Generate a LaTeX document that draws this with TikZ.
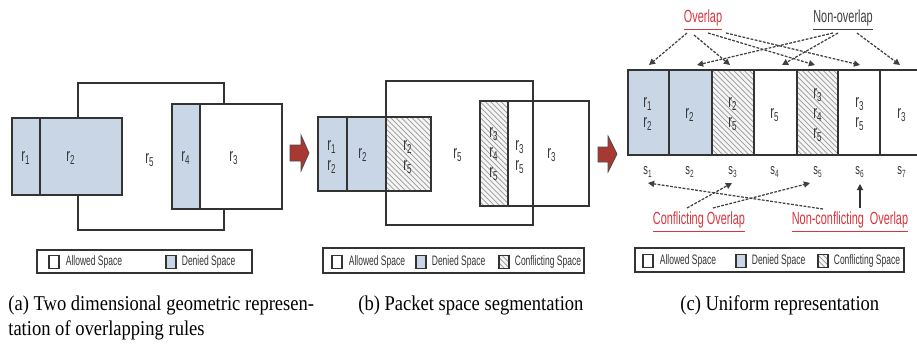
\documentclass[tikz,border=0pt]{standalone}
\usepackage{fontspec}
\usepackage{xcolor}
\usepackage{tikz}
\usetikzlibrary{positioning,calc,arrows.meta,patterns}

\newfontfamily\narrowsf[FakeStretch=0.62]{Liberation Sans}
\newfontfamily\capserif[FakeStretch=0.88]{Liberation Serif}
\definecolor{denyblue}{RGB}{200,214,230}
\definecolor{tagred}{RGB}{214,52,62}
\definecolor{arrowred}{RGB}{168,56,50}
\newcommand{\rlab}[1]{r\textsubscript{#1}}
\newcommand{\slab}[1]{s\textsubscript{#1}}

\begin{document}
\begin{tikzpicture}[x=0.02cm, y=-0.02cm,
  box/.style={draw=black!80, line width=0.8pt},
  deny/.style={box, fill=denyblue},
  allow/.style={box, fill=white},
  confl/.style={box, preaction={fill=black!4}, pattern=north west lines, pattern color=black!40},
  lbl/.style={font=\narrowsf\fontsize{10.5}{11.5}\selectfont, text=black!80, align=center, inner sep=0pt},
  seg/.style={font=\narrowsf\fontsize{8.5}{10}\selectfont, text=black!80, inner sep=0pt},
  legtxt/.style={font=\narrowsf\fontsize{7.8}{9}\selectfont, text=black!80, inner sep=0pt},
  swatch/.style={draw=black!80, line width=0.6pt, minimum width=0.2cm, minimum height=0.27cm, inner sep=0pt},
  legbox/.style={draw=black!80, line width=0.8pt},
  tag/.style={font=\narrowsf\fontsize{10}{11}\selectfont, inner sep=0pt},
  captxt/.style={font=\capserif\fontsize{12}{14}\selectfont, anchor=base west, inner sep=0pt},
  dots/.style={draw=black!75, line width=0.7pt, dash pattern=on 1.6pt off 0.8pt, -{Triangle[width=3.5pt,length=3.5pt]}},
  solidarr/.style={draw=black!80, line width=0.7pt, -{Triangle[width=3.5pt,length=3.5pt]}},
  bigarrow/.style={fill=arrowred, draw=black!70, line width=0.4pt}]
  \useasboundingbox (0,0) rectangle (917,349);

  % (a) Two dimensional view
  \draw[box] (78,83) rectangle (224,230); % r5
  \draw[deny] (12,118) rectangle (40,195); % r1
  \draw[deny] (40,118) rectangle (122,195); % r2
  \draw[deny] (172,104) rectangle (200,209); % r4
  \draw[allow] (200,104) rectangle (282,209); % r3
  \node[lbl] (a1) at (26,158) {\rlab{1}};
  \node[lbl] (a2) at (71,158) {\rlab{2}};
  \node[lbl] (a5) at (150,160) {\rlab{5}};
  \node[lbl] (a4) at (186,158) {\rlab{4}};
  \node[lbl] (a3) at (234,158) {\rlab{3}};

  % Legend (a)
  \draw[legbox] (37,250) rectangle (252,273);
  \node[swatch, fill=white] (la1) at (54,262) {};
  \node[legtxt, right=0.12cm of la1] (lt1) {Allowed Space};
  \node[swatch, fill=denyblue] (la2) at (171,262) {};
  \node[legtxt, right=0.1cm of la2] (lt2) {Denied Space};

  % Arrow a -> b
  \draw[bigarrow] (290,145) -- (301,145) -- (301,135) -- (309,153) -- (301,171) -- (301,161) -- (290,161) -- cycle;

  % (b) Segmented space
  \draw[deny] (318,117) rectangle (347,191);
  \draw[deny] (347,117) rectangle (386,191);
  \draw[confl] (386,117) rectangle (431,191);
  \draw[confl] (480,101) rectangle (508,206);
  \draw[allow] (508,101) rectangle (589,206);
  \draw[box] (386,81) rectangle (533,225); % r5
  \node[lbl] (b12) at (332,157) {\rlab{1}\\\rlab{2}};
  \node[lbl] (b2) at (363,155) {\rlab{2}};
  \node[lbl] (b25) at (408,157) {\rlab{2}\\\rlab{5}};
  \node[lbl] (b5) at (458,155) {\rlab{5}};
  \node[lbl] (b345) at (494,154) {\rlab{3}\\\rlab{4}\\\rlab{5}};
  \node[lbl] (b35) at (520,157) {\rlab{3}\\\rlab{5}};
  \node[lbl] (b3) at (552,155) {\rlab{3}};

  % Legend (b)
  \draw[legbox] (323,248) rectangle (584,273);
  \node[swatch, fill=white] (lb1) at (337,262) {};
  \node[legtxt, right=0.12cm of lb1] (lu1) {Allowed Space};
  \node[swatch, fill=denyblue] (lb2) at (421,262) {};
  \node[legtxt, right=0.1cm of lb2] (lu2) {Denied Space};
  \node[swatch, confl, line width=0.6pt] (lb3) at (504,262) {};
  \node[legtxt, right=0.1cm of lb3] (lu3) {Conflicting Space};

  % Arrow b -> c
  \draw[bigarrow] (598,147) -- (608,147) -- (608,136) -- (617,154) -- (608,172) -- (608,162) -- (598,162) -- cycle;

  % (c) Uniform strip
  \foreach \xa/\xb/\sty in {628/669/deny, 669/712/deny, 712/754/confl, 754/797/allow, 797/838/confl, 838/880/allow}
    \draw[\sty] (\xa,70) rectangle (\xb,155);
  \draw[box] (917,70) -- (880,70) -- (880,155) -- (917,155);
  \node[lbl] (c1) at (648,114) {\rlab{1}\\\rlab{2}};
  \node[lbl] (c2) at (690,115) {\rlab{2}};
  \node[lbl] (c3) at (733,114) {\rlab{2}\\\rlab{5}};
  \node[lbl] (c4) at (775,115) {\rlab{5}};
  \node[lbl] (c5) at (818,115) {\rlab{3}\\\rlab{4}\\\rlab{5}};
  \node[lbl] (c6) at (860,114) {\rlab{3}\\\rlab{5}};
  \node[lbl] (c7) at (902,115) {\rlab{3}};
  \foreach \i/\x in {1/648,2/690,3/733,4/775,5/818,6/860,7/902}
    \node[seg] (s\i) at (\x,172) {\slab{\i}};

  % Tags and pointers
  \node[tag, text=tagred] (ovl) at (703,20) {\underline{Overlap}};
  \node[tag, text=black!75] (novl) at (843,20) {\underline{Non-overlap}};
  \node[tag, text=tagred] (cfl) at (699,222) {\underline{Conflicting Overlap}};
  \node[tag, text=tagred] (ncfl) at (850,222) {\underline{Non-conflicting~ Overlap}};
  \coordinate (t1) at (649,65);
  \coordinate (t2) at (697,65);
  \coordinate (t3) at (730,65);
  \coordinate (t4) at (782,65);
  \coordinate (t5) at (815,65);
  \coordinate (t6) at (860,65);
  \coordinate (t7) at (900,65);
  \coordinate (u1) at (648,183);
  \coordinate (u3) at (732,183);
  \coordinate (u5) at (810,183);
  \coordinate (u6) at (860,184);
  \draw[dots] ($(ovl)+(-16,13)$) -- (t1);
  \draw[dots] ($(ovl)+(-9,15)$) -- (t3);
  \draw[dots] ($(ovl)+(5,13)$) -- (t5);
  \draw[dots] ($(ovl)+(23,13)$) -- (t6);
  \draw[dots] ($(novl)+(-10,13)$) -- (t2);
  \draw[dots] ($(novl)+(-5,13)$) -- (t4);
  \draw[dots] ($(novl)+(14,13)$) -- (t7);
  \draw[dots] ($(cfl)+(-12,-14)$) -- (u3);
  \draw[dots] ($(cfl)+(14,-14)$) -- (u5);
  \draw[dots] ($(ncfl)+(-27,-13)$) -- (u1);
  \draw[solidarr] ($(ncfl)+(10,-14)$) -- (u6);

  % Legend (c)
  \draw[legbox] (635,248) rectangle (904,272);
  \node[swatch, fill=white] (lc1) at (648,261) {};
  \node[legtxt, right=0.12cm of lc1] (lv1) {Allowed Space};
  \node[swatch, fill=denyblue] (lc2) at (741,261) {};
  \node[legtxt, right=0.1cm of lc2] (lv2) {Denied Space};
  \node[swatch, confl, line width=0.6pt] (lc3) at (823,261) {};
  \node[legtxt, right=0.1cm of lc3] (lv3) {Conflicting Space};

  % Captions
  \node[captxt] (capa) at (8,310) {(a) Two dimensional geometric represen-};
  \node[captxt] (capa2) at (8,335) {tation of overlapping rules};
  \node[captxt] (capb) at (358,310) {(b) Packet space segmentation};
  \node[captxt] (capc) at (680,310) {(c) Uniform representation};
\end{tikzpicture}
\end{document}
